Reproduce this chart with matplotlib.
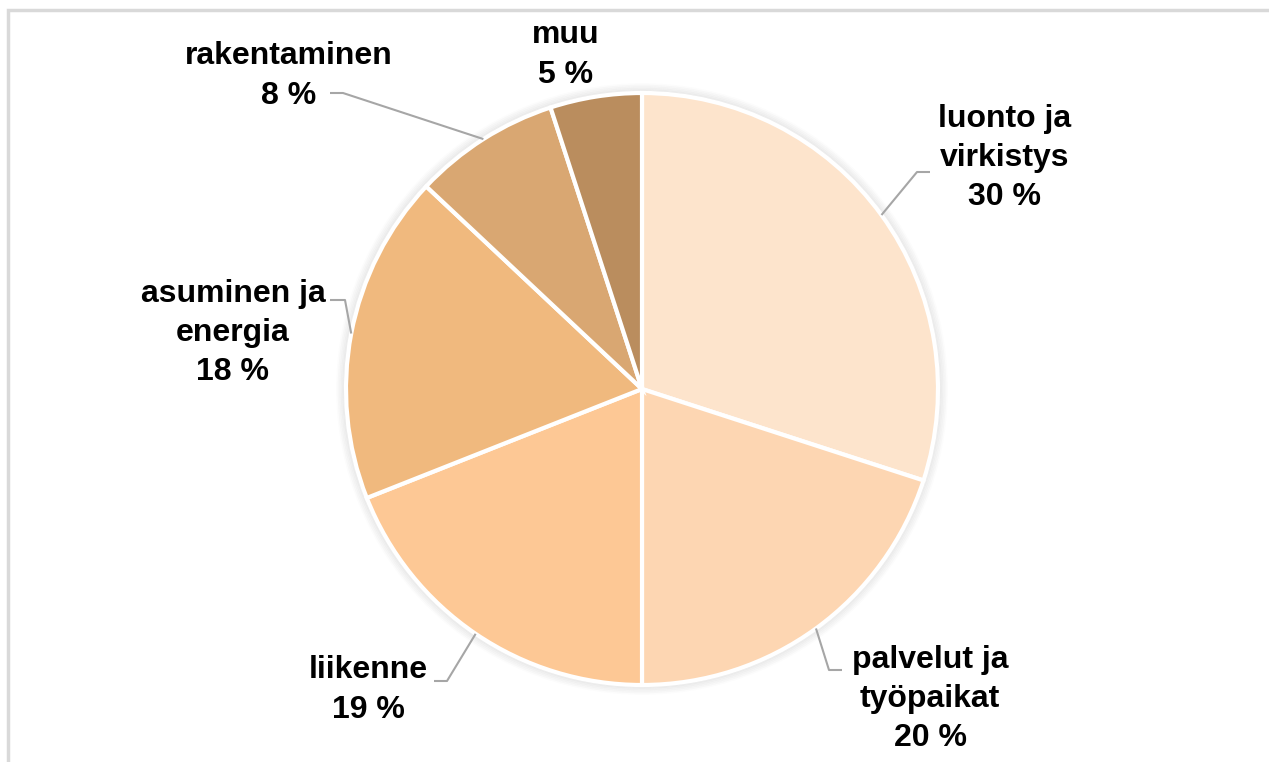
import matplotlib
matplotlib.use("Agg")
import matplotlib.pyplot as plt
import numpy as np
from matplotlib.patches import Circle, Rectangle

categories = ["luonto ja\nvirkistys", "palvelut ja\ntyöpaikat", "liikenne",
              "asuminen ja\nenergia", "rakentaminen", "muu"]
values = [30, 20, 19, 18, 8, 5]
colors = ["#FDE4CC", "#FDD6B2", "#FDC895", "#F0B97E", "#D9A772", "#BA8D5E"]

W, H = 1269, 762
fig = plt.figure(figsize=(W / 100, H / 100), dpi=100)
ax = fig.add_axes([0, 0, 1, 1])
ax.set_xlim(0, W)
ax.set_ylim(0, H)
ax.set_aspect("equal")
ax.axis("off")

# frame
ax.add_patch(Rectangle((7.5, -20), W + 20, H - 9.5 + 20, fill=False,
                       edgecolor="#D9D9D9", linewidth=2.5, zorder=0))

cx, cy, R = 642, H - 389, 296

# soft shadow
for i, a in enumerate(np.linspace(0.05, 0.01, 6)):
    ax.add_patch(Circle((cx, cy), R + 1 + i * 1.5, facecolor="none",
                        edgecolor="black", alpha=a, linewidth=2, zorder=1))

wedges, _ = ax.pie(values, colors=colors, startangle=90, counterclock=False,
                   center=(cx, cy), radius=R, frame=True,
                   wedgeprops=dict(edgecolor="white", linewidth=3))
for w in wedges:
    w.set_zorder(2)
ax.set_xlim(0, W)
ax.set_ylim(0, H)
ax.axis("off")

# label positions (text center, pixel coords from top) and leader elbow
label_pos = [(1005, 158), (930, 699), (368, 690), (233, 333), (289, 76), (566, 55)]
elbows = [((917, 172), (930, 172)), ((829, 670), (842, 670)),
          ((447, 681), (434, 681)), ((345, 300), (330, 300)),
          ((343, 93), (330, 93)), None]

cum = np.cumsum([0] + values)
tot = sum(values)
for i, (cat, v) in enumerate(zip(categories, values)):
    tx, ty = label_pos[i]
    ax.text(tx, H - ty, f"{cat}\n{v} %", ha="center", va="center",
            fontsize=23, fontweight="bold", family="Liberation Sans",
            linespacing=1.4, color="black", zorder=5)
    if elbows[i] is not None:
        mid = (cum[i] + v / 2) / tot * 2 * np.pi
        sx = cx + R * np.sin(mid)
        sy = cy + R * np.cos(mid)
        (ex, ey), (fx, fy) = elbows[i]
        ax.plot([sx, ex, fx], [sy, H - ey, H - fy], color="#A6A6A6",
                linewidth=1.5, zorder=4, solid_capstyle="butt")

fig.savefig("out.png", dpi=100)
